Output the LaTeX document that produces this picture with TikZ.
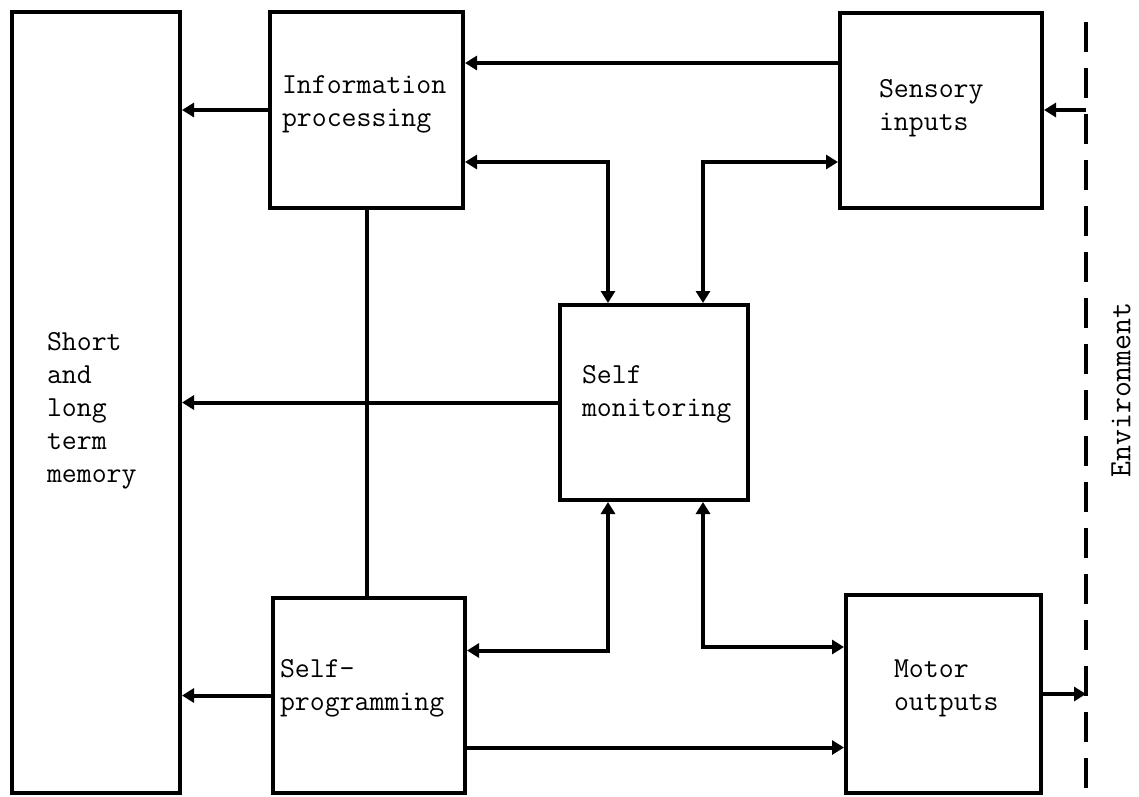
\documentclass[tikz,border=0pt]{standalone}
\usepackage{tikz}
\usetikzlibrary{positioning,arrows.meta}

\begin{document}
\begin{tikzpicture}[x=1pt,y=-1pt,>={Triangle[length=12pt,width=14pt]},line width=4pt,
  blk/.style={draw,rectangle,inner sep=0pt},
  txt/.style={anchor=base west,align=left,inner sep=0pt,font=\ttfamily\fontsize{29}{33}\selectfont}]
\path[use as bounding box,fill=white] (0,0) rectangle (1139,796);
\node[blk,minimum width=168pt,minimum height=781pt] (mem) at (96,402.5) {};
\node[blk,minimum width=193pt,minimum height=196pt] (info) at (366.5,110) {};
\node[blk,minimum width=202pt,minimum height=195pt] (sens) at (941,110) {};
\node[blk,minimum width=188pt,minimum height=195pt] (mon) at (654,402.5) {};
\node[blk,minimum width=192pt,minimum height=195pt] (prog) at (369,695.5) {};
\node[blk,minimum width=195pt,minimum height=198pt] (motor) at (943.5,694) {};
\node[txt] (memtxt) at (45,482) {Short\\and\\long\\term\\memory};
\node[txt] (infotxt) at (280,126) {Information\\processing};
\node[txt] (senstxt) at (877,130) {Sensory\\inputs};
\node[txt] (montxt) at (580,416) {Self\\monitoring};
\node[txt] (progtxt) at (278,710) {Self-\\programming};
\node[txt] (motortxt) at (892,710) {Motor\\outputs};
\coordinate (envtop) at (1086,22);
\coordinate (envbot) at (1086,796);
\draw[dash pattern=on 30pt off 16pt] (envtop) -- (envbot);
\node[rotate=90,inner sep=0pt,font=\ttfamily\fontsize{31}{36}\selectfont] (envlbl) at (1121,390) {Environment};
\draw[->] (info.west) -- (info.west -| mem.east);
\draw[->] ([yshift=47pt]sens.west) -- ([yshift=47pt]sens.west -| info.east);
\draw[<->] ([yshift=-52pt]info.east) -| ([xshift=-46pt]mon.north);
\draw[<->] ([yshift=-52pt]sens.west) -| ([xshift=49pt]mon.north);
\draw[->] (mon.west) -- (mon.west -| mem.east);
\draw (info.south) -- (info.south |- prog.north);
\draw[->] (prog.west) -- (prog.west -| mem.east);
\draw[<->] ([yshift=45pt]prog.east) -| ([xshift=-46pt]mon.south);
\draw[<->] ([xshift=49pt]mon.south) |- ([yshift=47pt]motor.west);
\draw[->] ([yshift=-52pt]prog.east) -- ([yshift=-52pt]prog.east -| motor.west);
\draw[->] (sens.east -| envtop) -- (sens.east);
\draw[->] (motor.east) -- (motor.east -| envtop);
\end{tikzpicture}
\end{document}
